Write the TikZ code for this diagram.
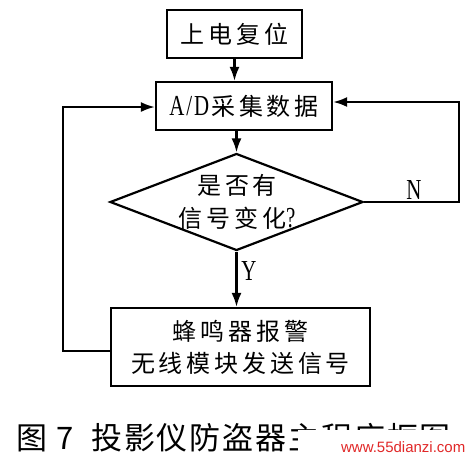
\documentclass[tikz,border=0pt]{standalone}
\usepackage{fontspec}
\newfontfamily\cjkbox[LetterSpace=16]{Noto Sans CJK SC}
\newfontfamily\cjkcap[LetterSpace=6]{Noto Sans CJK SC}
\newfontfamily\latc[FakeStretch=0.72]{Liberation Serif}
\newfontfamily\wmf{Liberation Sans}
\usetikzlibrary{shapes.geometric,arrows.meta}
\definecolor{wmred}{RGB}{225,40,40}
\begin{document}
\begin{tikzpicture}[x=1pt,y=-1pt,
  line width=2.2pt,
  box/.style={draw,rectangle,inner sep=0pt,line width=2.2pt},
  boxtext/.style={font=\cjkbox\fontsize{24}{32}\selectfont,align=center},
  arr/.style={-{Latex[length=14pt,width=10pt]}},
  lbl/.style={font=\latc\fontsize{29}{29}\selectfont,inner sep=0pt}
]
\useasboundingbox (0,0) rectangle (473,459);
\fill[white] (0,0) rectangle (473,459);

\node[box,boxtext,minimum width=135pt,minimum height=48pt] (start) at (234.5,34) {上电复位};
\node[box,boxtext,minimum width=176pt,minimum height=48pt] (ad) at (244,106) {{\latc\fontsize{29}{29}\selectfont A\kern2pt/\kern2pt D}\kern2pt 采集数据};
\node[diamond,draw,line width=2.2pt,inner sep=0pt,minimum width=253pt,minimum height=97pt] (dec) at (236.5,202) {};
\node[boxtext,font=\cjkbox\fontsize{24}{33}\selectfont] (dectext) at (237,202) {是否有\\信号变化{\latc\fontsize{29}{29}\selectfont ?}};
\node[box,boxtext,minimum width=259pt,minimum height=78pt] (sig) at (240.5,347) {蜂鸣器报警\\无线模块发送信号};

\coordinate (rt) at (459,0);
\coordinate (lt) at (63,0);

\draw[arr] (start.south) -- (start.south |- ad.north);
\draw[arr] (dec.north |- ad.south) -- (dec.north);
\draw[arr] (dec.south) -- (dec.south |- sig.north);
\draw[arr] (dec.east) -- (dec.east -| rt) |- ([yshift=4pt]ad.east);
\draw[arr] ([yshift=-4pt]sig.west) -- ([yshift=-4pt]sig.west -| lt) |- ([yshift=-1pt]ad.west);

\node[lbl] (nlab) at (414,190) {N};
\node[lbl] (ylab) at (249,271) {Y};

\node[anchor=west,inner sep=0pt,font=\cjkcap\fontsize{31}{31}\selectfont] (cap) at (15,438) {图\hspace{9pt}7\hspace{18pt}投影仪防盗器主程序框图};
\fill[white] (298,430) rectangle (473,459);
\node[anchor=west,inner sep=0pt,text=wmred,font=\wmf\fontsize{15}{15}\selectfont] (wm) at (340,447) {www.55dianzi.com};
\end{tikzpicture}
\end{document}
